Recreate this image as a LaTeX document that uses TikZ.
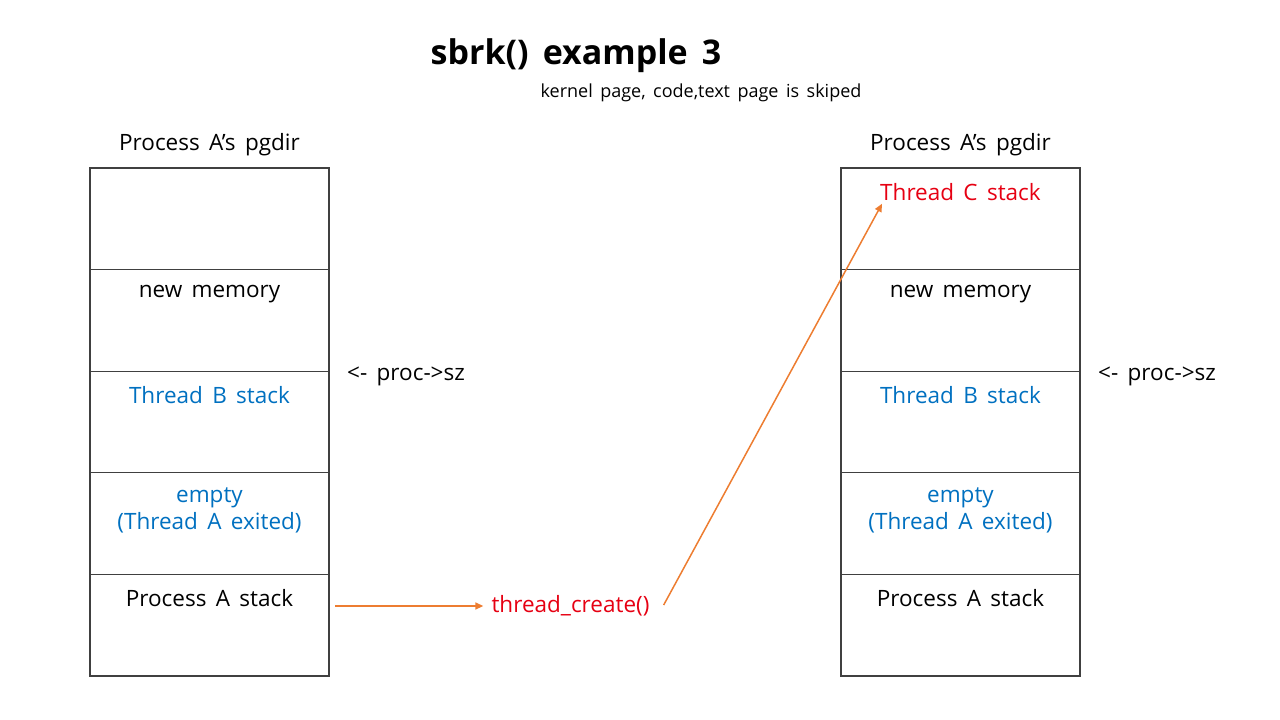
\documentclass[tikz,border=0pt]{standalone}
\usepackage{fontspec}
\setmainfont{Open Sans}[WordSpace = 1.6]
\usetikzlibrary{positioning,arrows.meta}

\definecolor{linegray}{RGB}{64,64,64}
\definecolor{stackblue}{RGB}{0,112,192}
\definecolor{newred}{RGB}{230,0,18}
\definecolor{arroworange}{RGB}{237,125,49}

\begin{document}
\begin{tikzpicture}
      [x = 1pt, y = -1pt,
      cell/.style= {
         draw = linegray,
         line width = 1.2pt,
         minimum width = 239pt,
         minimum height = 101.6pt,
         inner sep = 0pt,
         outer sep = 0pt
      },
      txt/.style= {
         font = \fontsize{22.5}{27}\selectfont,
         align = center,
         inner sep = 2pt
      },
      flow/.style= {
         draw = arroworange,
         line width = 1.5pt,
         -{Triangle[length = 8pt, width = 7pt]}
      }]

      \useasboundingbox (0, 0) rectangle (1280, 720);

      % title
      \node[font = \fontsize{34}{40}\selectfont\bfseries] (title) at (576, 56) {sbrk() example 3};
      \node[font = \fontsize{18}{22}\selectfont] (note) at (701, 93) {kernel page, code,text page is skiped};

      % left page table
      \node[txt] (lhead) at (209.5, 145) {Process A’s pgdir};
      \node[cell] (a1) at (209.5, 218.8) {};
      \node[cell, below = 0pt of a1] (a2) {};
      \node[cell, below = 0pt of a2] (a3) {};
      \node[cell, below = 0pt of a3] (a4) {};
      \node[cell, below = 0pt of a4] (a5) {};
      \node[txt, below = 13pt of a2.north] (a2t) {new memory};
      \node[txt, below = 13pt of a3.north, text = stackblue] (a3t) {Thread B stack};
      \node[txt, below = 13pt of a4.north, text = stackblue] (a4t) {empty\\(Thread A exited)};
      \node[txt, below = 13pt of a5.north] (a5t) {Process A stack};
      \node[txt, right = 16pt of a3.north east, yshift = -5pt] (lsz) {<- proc->sz};

      % right page table
      \node[txt] (rhead) at (960.5, 145) {Process A’s pgdir};
      \node[cell] (b1) at (960.5, 218.8) {};
      \node[cell, below = 0pt of b1] (b2) {};
      \node[cell, below = 0pt of b2] (b3) {};
      \node[cell, below = 0pt of b3] (b4) {};
      \node[cell, below = 0pt of b4] (b5) {};
      \node[txt, below = 13pt of b1.north, text = newred] (b1t) {Thread C stack};
      \node[txt, below = 13pt of b2.north] (b2t) {new memory};
      \node[txt, below = 13pt of b3.north, text = stackblue] (b3t) {Thread B stack};
      \node[txt, below = 13pt of b4.north, text = stackblue] (b4t) {empty\\(Thread A exited)};
      \node[txt, below = 13pt of b5.north] (b5t) {Process A stack};
      \node[txt, right = 16pt of b3.north east, yshift = -5pt] (rsz) {<- proc->sz};

      % thread_create
      \node[txt, text = newred, inner sep = 8pt] (tcreate) at (570.5, 606) {thread\_create()};
      \coordinate (ctip) at ([xshift = 4pt, yshift = -1pt]b1t.south west);

      \draw[flow, shorten < = 6pt] (a5.east |- tcreate.west) -- (tcreate.west);
      \draw[flow] ([xshift = 6pt, yshift = 1pt]tcreate.east) -- (ctip);

   \end{tikzpicture}
\end{document}
